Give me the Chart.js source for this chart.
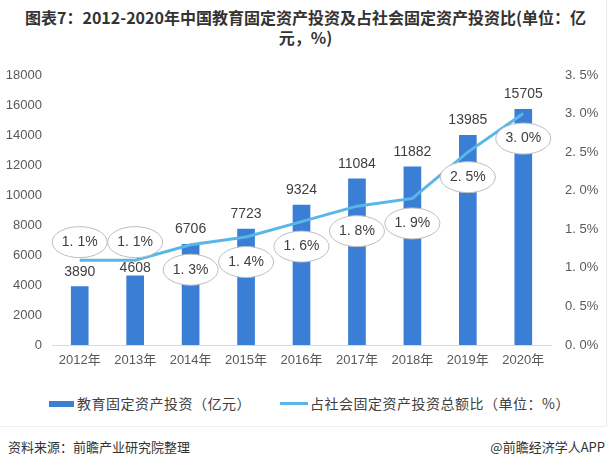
<!DOCTYPE html>
<html>
<head>
<meta charset="utf-8">
<script src="https://cdn.jsdelivr.net/npm/chart.js@4/dist/chart.umd.min.js"></script>
<style>
  html, body { margin: 0; padding: 0; background: #fff; }
  body { width: 611px; height: 468px; position: relative; overflow: hidden;
         font-family: "Noto Sans CJK SC", "Noto Sans", sans-serif; color: #404040; }
  #panel { position: absolute; left: 0; top: 0; width: 606px; height: 426px;
           border-right: 1px solid #e6ebf0; border-bottom: 1px solid #eeeeee; }
  #title { position: absolute; left: 0; top: 7px; width: 611px; text-align: center;
           font-size: 16px; font-weight: bold; line-height: 20px; color: #333; }
  #wrap { position: absolute; left: 0; top: 60px; width: 611px; height: 315px; }
  #legend { position: absolute; top: 393px; left: 0; width: 611px; height: 20px;
            font-size: 14px; letter-spacing: 0.5px; color: #404040; }
  .lg { position: absolute; top: 0; line-height: 20px; white-space: nowrap; }
  .sw { position: absolute; }
  #src { position: absolute; left: 8px; top: 437px; font-size: 13px; color: #333; }
  #app { position: absolute; right: 6px; top: 437px; font-size: 13px; color: #333; }
</style>
</head>
<body>
<div id="panel"></div>
<div id="title">图表7：2012-2020年中国教育固定资产投资及占社会固定资产投资比(单位：亿<br>元，%)</div>
<div id="wrap"><canvas id="chart" width="611" height="315"></canvas></div>
<div id="legend">
  <div class="sw" style="left:49px; top:8px; width:25px; height:6px; background:#3a7ed6;"></div>
  <div class="lg" style="left:77px;">教育固定资产投资（亿元）</div>
  <div class="sw" style="left:280px; top:9px; width:28px; height:3px; background:#5ab6e8;"></div>
  <div class="lg" style="left:310px;">占社会固定资产投资总额比（单位：%）</div>
</div>
<div id="src">资料来源：前瞻产业研究院整理</div>
<div id="app">@前瞻经济学人APP</div>

<script>
// data
const years = ['2012年', '2013年', '2014年', '2015年', '2016年', '2017年', '2018年', '2019年', '2020年'];
const investment = [3890, 4608, 6706, 7723, 9324, 11084, 11882, 13985, 15705];
const sharePct = [1.1, 1.1, 1.3, 1.4, 1.6, 1.8, 1.9, 2.5, 3.0];

// label placement (style only)
const shareLabelSide = [-1, -1, 1, 1, 1, 1, 1, 1, 1];   // -1 above the line, 1 below
const valueLabelLift = [15, 8, 15, 15, 15, 15, 15, 15, 15];

const fmtPct = v => v.toFixed(1).replace('.', '. ') + '%';

// draws bar values and the ellipse labels on the line
const labelsPlugin = {
  id: 'labels',
  afterDatasetsDraw(chart) {
    const ctx = chart.ctx;
    ctx.save();
    ctx.font = '14px "Liberation Sans", Arial, sans-serif';
    ctx.fillStyle = '#404040';
    ctx.textAlign = 'center';
    ctx.textBaseline = 'middle';

    // dataset 0 = bars
    chart.getDatasetMeta(0).data.forEach((bar, i) => {
      ctx.fillText(String(investment[i]), bar.x, bar.y - valueLabelLift[i]);
    });

    // dataset 1 = line
    chart.getDatasetMeta(1).data.forEach((pt, i) => {
      const cy = pt.y + (shareLabelSide[i] < 0 ? -18 : 25);
      ctx.beginPath();
      ctx.ellipse(pt.x, cy, 27.5, 15.5, 0, 0, Math.PI * 2);
      ctx.fillStyle = '#fff';
      ctx.fill();
      ctx.lineWidth = 1;
      ctx.strokeStyle = '#bdbdbd';
      ctx.stroke();
      ctx.fillStyle = '#404040';
      ctx.fillText(fmtPct(sharePct[i]), pt.x, cy);
    });
    ctx.restore();
  }
};

const tickFont = { size: 13, family: '"Liberation Sans", Arial, sans-serif' };

// fixed axis boxes so the plot area sits where the reference has it
const fixY = w => s => { s.width = w; s.paddingTop = 8; s.paddingBottom = 8; };

new Chart(document.getElementById('chart'), {
  data: {
    labels: years,
    datasets: [
      {
        type: 'bar',
        label: '教育固定资产投资（亿元）',
        data: investment,
        yAxisID: 'y',
        backgroundColor: '#3a7ed6',
        barThickness: 17,
        order: 1
      },
      {
        type: 'line',
        label: '占社会固定资产投资总额比（单位：%）',
        data: sharePct,
        yAxisID: 'y1',
        borderColor: '#5ab6e8',
        borderWidth: 3,
        pointRadius: 0,
        tension: 0,
        order: 0
      }
    ]
  },
  options: {
    responsive: false,
    animation: false,
    layout: { padding: { top: 15, left: 0, right: 0, bottom: 0 } },
    plugins: { legend: { display: false }, tooltip: { enabled: false } },
    scales: {
      x: {
        grid: { display: false, drawTicks: false },
        border: { display: true, color: '#d9d9d9' },
        ticks: { color: '#595959', font: { size: 13, family: '"Liberation Sans", "Noto Sans CJK SC", sans-serif' }, maxRotation: 0, padding: 8 },
        afterFit: s => { s.height = 30; }
      },
      y: {
        position: 'left',
        min: 0, max: 18000,
        ticks: { stepSize: 2000, color: '#595959', font: tickFont, padding: 10,
                 callback: v => String(v) },
        grid: { display: false, drawTicks: false },
        border: { display: false },
        afterFit: fixY(52)
      },
      y1: {
        position: 'right',
        min: 0, max: 3.5,
        ticks: { stepSize: 0.5, color: '#595959', font: tickFont, padding: 14,
                 callback: v => fmtPct(v) },
        grid: { display: false, drawTicks: false },
        border: { display: false },
        afterFit: fixY(60)
      }
    }
  },
  plugins: [labelsPlugin]
});
</script>
</body>
</html>
